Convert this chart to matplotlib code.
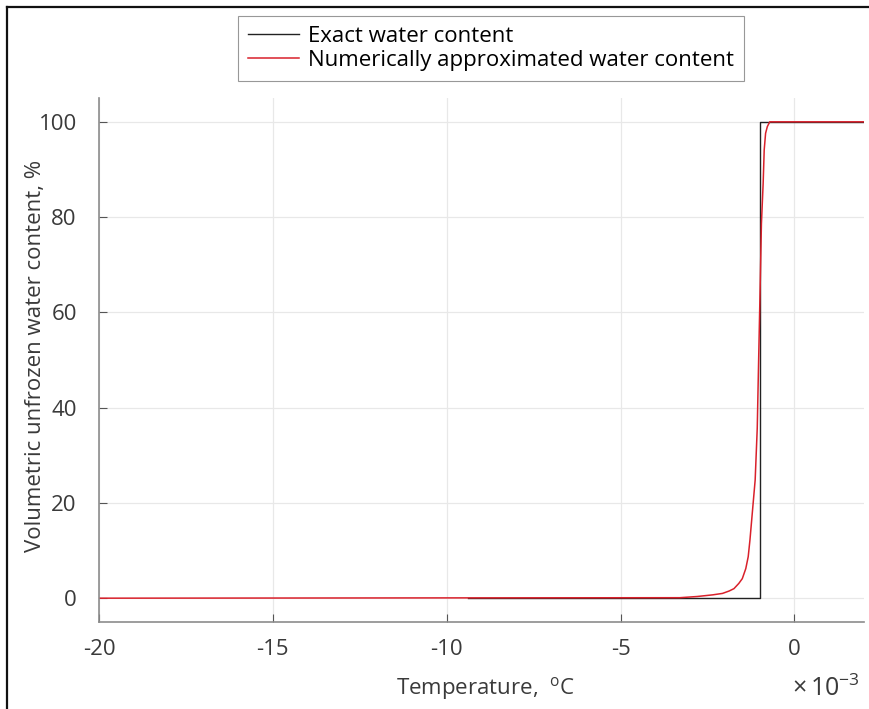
import matplotlib
matplotlib.use("Agg")
import matplotlib.pyplot as plt
from matplotlib.lines import Line2D

plt.rcParams['font.family'] = ['Open Sans', 'DejaVu Sans']
plt.rcParams['mathtext.fontset'] = 'custom'
plt.rcParams['mathtext.rm'] = 'Open Sans'
plt.rcParams['mathtext.it'] = 'Open Sans'

# Data (temperature in units of 1e-3 degC, water content in %)
exact_T = [-9.4, -1.0, -1.0, 2.0]
exact_W = [0, 0, 100, 100]

approx_T = [-20, -3.3, -2.8, -2.35, -2.07, -1.88, -1.74, -1.60, -1.50, -1.40,
            -1.33, -1.28, -1.23, -1.18, -1.13, -1.07, -1.03, -0.99, -0.95,
            -0.90, -0.87, -0.83, -0.78, -0.71, 2.0]
approx_W = [0, 0.1, 0.35, 0.7, 1.0, 1.5, 2.0, 3.1, 4.1, 6.2,
            8.7, 12.2, 16.4, 20.6, 24.8, 35.7, 50, 64, 78.6,
            87.1, 94.1, 97.6, 99.0, 100, 100]

xticks = [-20, -15, -10, -5, 0]
yticks = [0, 20, 40, 60, 80, 100]

TXT = '#3a3a3a'
W, H = 870, 709
fig = plt.figure(figsize=(W / 100, H / 100), dpi=100)
ax = fig.add_axes([99 / W, 1 - 622 / H, (864 - 99) / W, (622 - 98) / H])

l1, = ax.plot(exact_T, exact_W, color='#222222', lw=1.0, label='Exact water content')
l2, = ax.plot(approx_T, approx_W, color='#d9212b', lw=1.1,
              label='Numerically approximated water content')

ax.set_xlim(-20, 2)
ax.set_ylim(-5, 105)
ax.set_xticks(xticks)
ax.set_xticklabels([str(t) for t in xticks])
ax.set_yticks(yticks)
ax.set_yticklabels([str(t) for t in yticks])
ax.grid(True, color='#e8e8e8', lw=0.9)
ax.set_axisbelow(True)
for s in ['top', 'right']:
    ax.spines[s].set_visible(False)
for s in ['left', 'bottom']:
    ax.spines[s].set_color('#8c8c8c')
    ax.spines[s].set_linewidth(1.2)
ax.tick_params(axis='both', direction='in', length=6, width=0.8, color='#555555',
               labelsize=16, labelcolor=TXT)
ax.tick_params(axis='x', pad=12)
ax.tick_params(axis='y', pad=16)

fig.text(36 / W, 1 - 356 / H, 'Volumetric unfrozen water content, %', fontsize=16,
         color=TXT, rotation=90, ha='center', va='center')
fig.text(485 / W, 1 - 688 / H, r'Temperature,  $^{\mathrm{o}}$C', fontsize=16,
         color=TXT, ha='center', va='center')
fig.text(792 / W, 1 - 689 / H, r'$\times\,10^{-3}$', fontsize=18,
         color=TXT, ha='left', va='center')

leg = fig.legend(handles=[l1, l2], loc='center',
                 bbox_to_anchor=(491 / W, 1 - 48.5 / H), fontsize=16,
                 frameon=True, fancybox=False, edgecolor='#7f7f7f',
                 handlelength=2.3, handletextpad=0.4, borderpad=0.45,
                 labelspacing=0.12, borderaxespad=0)
leg.get_frame().set_linewidth(0.8)

fig.add_artist(Line2D([7 / W, 7 / W], [0, 1 - 7 / H], transform=fig.transFigure,
                      color='#111111', lw=1.6))
fig.add_artist(Line2D([7 / W, 1], [1 - 7 / H, 1 - 7 / H], transform=fig.transFigure,
                      color='#111111', lw=1.6))

fig.savefig('out.png', dpi=100)
